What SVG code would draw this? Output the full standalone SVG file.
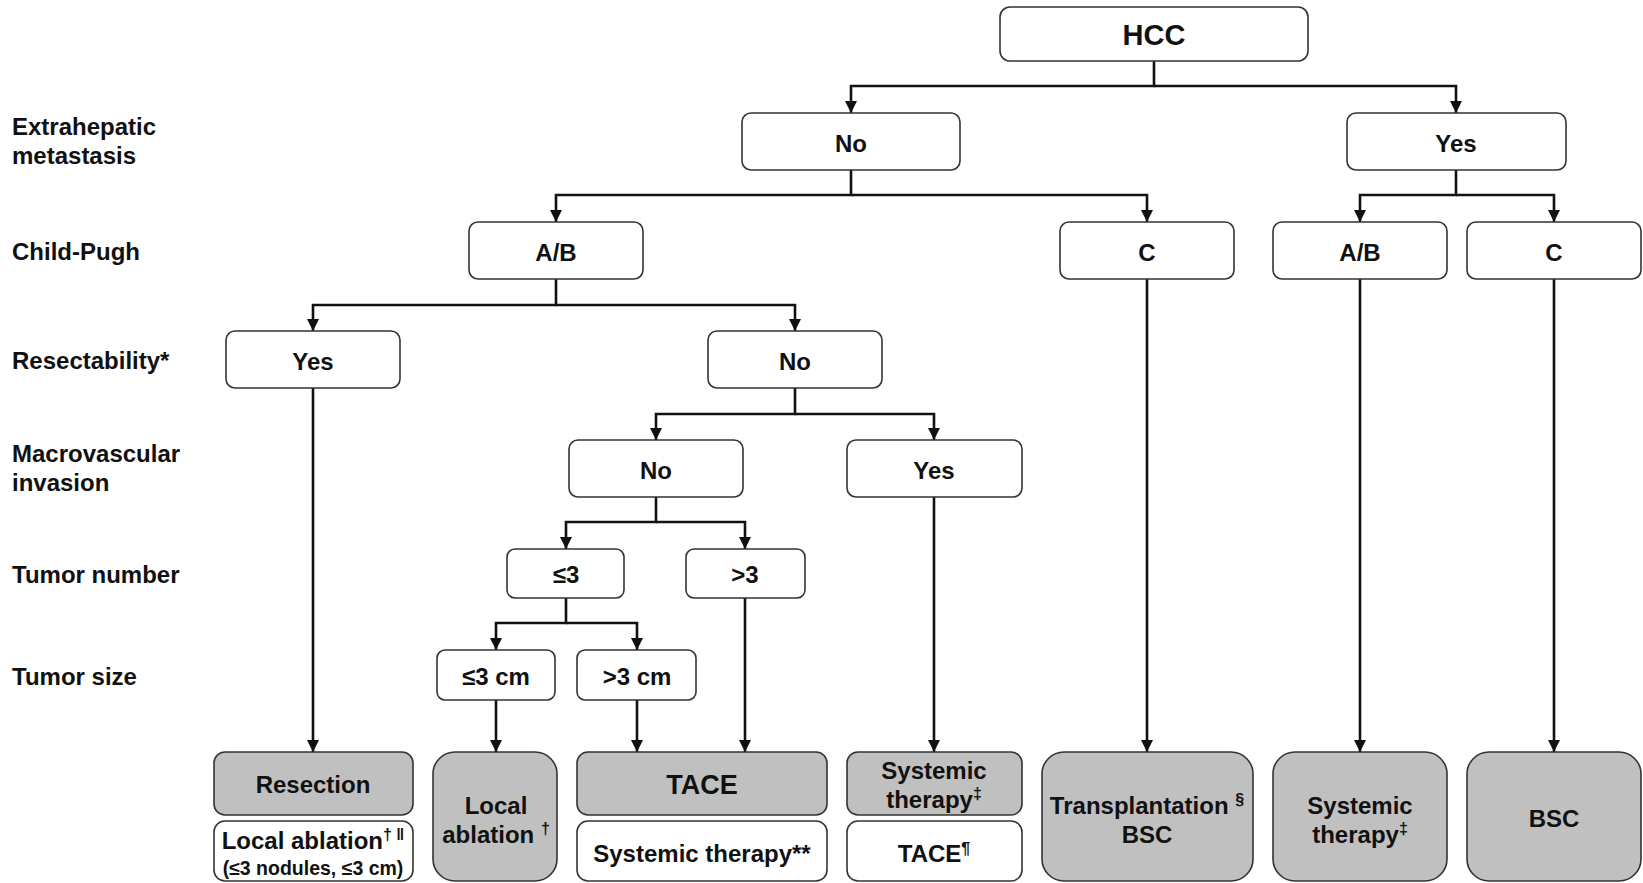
<svg xmlns="http://www.w3.org/2000/svg" width="1643" height="883" viewBox="0 0 1643 883">
  <style>
    text { font-family: "Liberation Sans", Arial, sans-serif; font-weight: bold; fill: #111; }
    .lbl { font-size: 24px; }
    .nt { font-size: 24px; text-anchor: middle; }
    .box { fill: #ffffff; stroke: #333; stroke-width: 1.6; }
    .gbox { fill: #c0c0c0; stroke: #333; stroke-width: 1.6; }
    .conn { fill: none; stroke: #111; stroke-width: 2.6; stroke-linejoin: miter; }
    .sup { font-size: 16px; }
  </style>
  <defs>
    <marker id="arrow" viewBox="0 0 12 12" refX="12" refY="6" markerWidth="12" markerHeight="12" markerUnits="userSpaceOnUse" orient="auto">
      <path d="M0,0 L12,6 L0,12 z" fill="#111"/>
    </marker>
  </defs>
  <rect width="1643" height="883" fill="#ffffff"/>

  <!-- row labels -->
  <g id="row-labels">
    <text class="lbl" x="12" y="135">Extrahepatic</text>
    <text class="lbl" x="12" y="164">metastasis</text>
    <text class="lbl" x="12" y="260">Child-Pugh</text>
    <text class="lbl" x="12" y="369">Resectability*</text>
    <text class="lbl" x="12" y="462">Macrovascular</text>
    <text class="lbl" x="12" y="491">invasion</text>
    <text class="lbl" x="12" y="583">Tumor number</text>
    <text class="lbl" x="12" y="685">Tumor size</text>
  </g>

  <!-- connectors -->
  <g id="connectors">
    <path class="conn" marker-end="url(#arrow)" d="M1154,61 V86 H851 V113"/>
    <path class="conn" marker-end="url(#arrow)" d="M1154,86 H1456 V113"/>
    <path class="conn" marker-end="url(#arrow)" d="M851,170 V195 H556 V222"/>
    <path class="conn" marker-end="url(#arrow)" d="M851,195 H1147 V222"/>
    <path class="conn" marker-end="url(#arrow)" d="M1456,170 V195 H1360 V222"/>
    <path class="conn" marker-end="url(#arrow)" d="M1456,195 H1554 V222"/>
    <path class="conn" marker-end="url(#arrow)" d="M556,279 V305 H313 V331"/>
    <path class="conn" marker-end="url(#arrow)" d="M556,305 H795 V331"/>
    <path class="conn" marker-end="url(#arrow)" d="M1147,279 V752"/>
    <path class="conn" marker-end="url(#arrow)" d="M1360,279 V752"/>
    <path class="conn" marker-end="url(#arrow)" d="M1554,279 V752"/>
    <path class="conn" marker-end="url(#arrow)" d="M313,388 V752"/>
    <path class="conn" marker-end="url(#arrow)" d="M795,388 V414 H656 V440"/>
    <path class="conn" marker-end="url(#arrow)" d="M795,414 H934 V440"/>
    <path class="conn" marker-end="url(#arrow)" d="M656,497 V522 H566 V549"/>
    <path class="conn" marker-end="url(#arrow)" d="M656,522 H745 V549"/>
    <path class="conn" marker-end="url(#arrow)" d="M934,497 V752"/>
    <path class="conn" marker-end="url(#arrow)" d="M566,598 V623 H496 V650"/>
    <path class="conn" marker-end="url(#arrow)" d="M566,623 H637 V650"/>
    <path class="conn" marker-end="url(#arrow)" d="M745,598 V752"/>
    <path class="conn" marker-end="url(#arrow)" d="M496,700 V752"/>
    <path class="conn" marker-end="url(#arrow)" d="M637,700 V752"/>
  </g>

  <!-- decision nodes -->
  <g id="hcc">
    <rect class="box" x="1000" y="7" width="308" height="54" rx="10"/>
    <text class="nt" x="1154" y="45" style="font-size:29px">HCC</text>
  </g>
  <g id="ext-no">
    <rect class="box" x="742" y="113" width="218" height="57" rx="9"/>
    <text class="nt" x="851" y="152">No</text>
  </g>
  <g id="ext-yes">
    <rect class="box" x="1347" y="113" width="219" height="57" rx="9"/>
    <text class="nt" x="1456" y="152">Yes</text>
  </g>
  <g id="cp-ab">
    <rect class="box" x="469" y="222" width="174" height="57" rx="9"/>
    <text class="nt" x="556" y="261">A/B</text>
  </g>
  <g id="cp-c">
    <rect class="box" x="1060" y="222" width="174" height="57" rx="9"/>
    <text class="nt" x="1147" y="261">C</text>
  </g>
  <g id="cp-ab-meta">
    <rect class="box" x="1273" y="222" width="174" height="57" rx="9"/>
    <text class="nt" x="1360" y="261">A/B</text>
  </g>
  <g id="cp-c-meta">
    <rect class="box" x="1467" y="222" width="174" height="57" rx="9"/>
    <text class="nt" x="1554" y="261">C</text>
  </g>
  <g id="res-yes">
    <rect class="box" x="226" y="331" width="174" height="57" rx="9"/>
    <text class="nt" x="313" y="370">Yes</text>
  </g>
  <g id="res-no">
    <rect class="box" x="708" y="331" width="174" height="57" rx="9"/>
    <text class="nt" x="795" y="370">No</text>
  </g>
  <g id="mvi-no">
    <rect class="box" x="569" y="440" width="174" height="57" rx="9"/>
    <text class="nt" x="656" y="479">No</text>
  </g>
  <g id="mvi-yes">
    <rect class="box" x="847" y="440" width="175" height="57" rx="9"/>
    <text class="nt" x="934" y="479">Yes</text>
  </g>
  <g id="num-le3">
    <rect class="box" x="507" y="549" width="117" height="49" rx="8"/>
    <text class="nt" x="566" y="583">≤3</text>
  </g>
  <g id="num-gt3">
    <rect class="box" x="686" y="549" width="119" height="49" rx="8"/>
    <text class="nt" x="745" y="583">&gt;3</text>
  </g>
  <g id="size-le3">
    <rect class="box" x="437" y="650" width="118" height="50" rx="8"/>
    <text class="nt" x="496" y="685">≤3 cm</text>
  </g>
  <g id="size-gt3">
    <rect class="box" x="577" y="650" width="119" height="50" rx="8"/>
    <text class="nt" x="637" y="685">&gt;3 cm</text>
  </g>

  <!-- treatment nodes -->
  <g id="tx-resection">
    <rect class="gbox" x="214" y="752" width="199" height="63" rx="11"/>
    <text class="nt" x="313" y="793">Resection</text>
  </g>
  <g id="tx-resection-alt">
    <rect class="box" x="214" y="821" width="199" height="60" rx="11"/>
    <text class="nt" x="313" y="849">Local ablation<tspan class="sup" dy="-9">† ‖</tspan></text>
    <text class="nt" x="313" y="875" style="font-size:19.5px">(≤3 nodules, ≤3 cm)</text>
  </g>
  <g id="tx-ablation">
    <rect class="gbox" x="433" y="752" width="124" height="129" rx="22"/>
    <text class="nt" x="496" y="814">Local</text>
    <text class="nt" x="496" y="843">ablation <tspan class="sup" dy="-9">†</tspan></text>
  </g>
  <g id="tx-tace">
    <rect class="gbox" x="577" y="752" width="250" height="63" rx="11"/>
    <text class="nt" x="702" y="794" style="font-size:27px">TACE</text>
  </g>
  <g id="tx-tace-alt">
    <rect class="box" x="577" y="821" width="250" height="60" rx="11"/>
    <text class="nt" x="702" y="862">Systemic therapy**</text>
  </g>
  <g id="tx-systemic-mvi">
    <rect class="gbox" x="847" y="752" width="175" height="63" rx="11"/>
    <text class="nt" x="934" y="779">Systemic</text>
    <text class="nt" x="934" y="808">therapy<tspan class="sup" dy="-9">‡</tspan></text>
  </g>
  <g id="tx-systemic-mvi-alt">
    <rect class="box" x="847" y="821" width="175" height="60" rx="11"/>
    <text class="nt" x="934" y="862">TACE<tspan class="sup" dy="-8">¶</tspan></text>
  </g>
  <g id="tx-transplant">
    <rect class="gbox" x="1042" y="752" width="211" height="129" rx="22"/>
    <text class="nt" x="1147" y="814">Transplantation <tspan class="sup" dy="-9">§</tspan></text>
    <text class="nt" x="1147" y="843">BSC</text>
  </g>
  <g id="tx-systemic-meta">
    <rect class="gbox" x="1273" y="752" width="174" height="129" rx="22"/>
    <text class="nt" x="1360" y="814">Systemic</text>
    <text class="nt" x="1360" y="843">therapy<tspan class="sup" dy="-9">‡</tspan></text>
  </g>
  <g id="tx-bsc">
    <rect class="gbox" x="1467" y="752" width="174" height="129" rx="22"/>
    <text class="nt" x="1554" y="827">BSC</text>
  </g>
</svg>
